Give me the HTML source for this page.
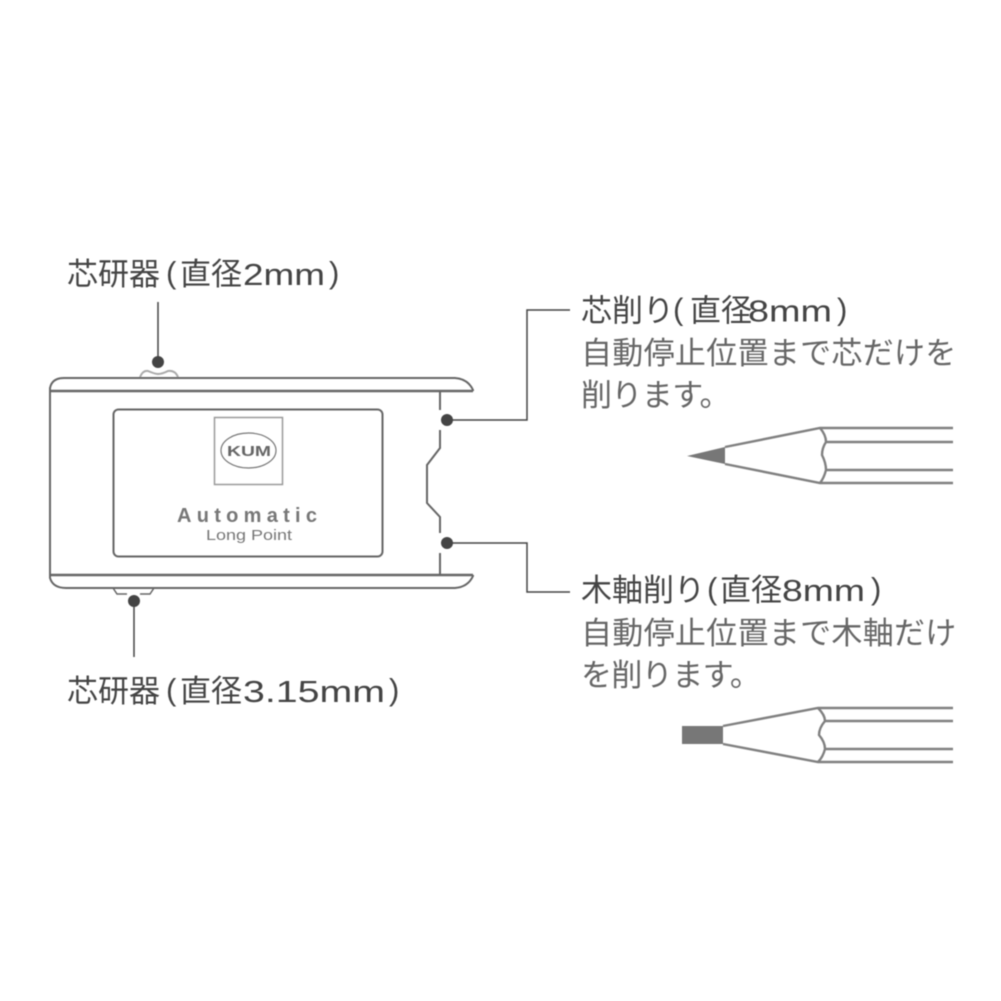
<!DOCTYPE html>
<html><head><meta charset="utf-8"><style>
html,body{margin:0;padding:0;background:#fff}
svg{display:block;filter:blur(.5px)}
text{font-family:"Liberation Sans","Noto Sans CJK JP",sans-serif;font-size:31px}
.h text{fill:#444}
.b text{fill:#666}
</style></head><body>
<svg width="1001" height="1001" viewBox="0 0 1001 1001" xmlns="http://www.w3.org/2000/svg">
<g fill="none" stroke="#666" stroke-width="2">
<path d="M50 391V388Q52 378 64 378H455Q468 379 473 390V391"/>
<path d="M50 391H473M50 575H473" stroke-width="2.600"/>
<path d="M50 391V575"/>
<path d="M50 575V578Q53 588 66 588H455Q468 587 473 576V575"/>
<rect x="113.500" y="409.500" width="269" height="147" rx="5"/>
<path d="M440 391V410M440 430V448L427 465V503L440 517V533M440 553V575"/>
<rect x="214.500" y="417.500" width="68" height="67" stroke="#999" stroke-width="1.500"/>
<ellipse cx="248.500" cy="450.500" rx="27.500" ry="17.500" stroke-width="1.200" stroke="#777"/>
<path d="M140 377Q143 370 148 371Q155 374 158 374Q162 374 168 371Q175 370 178 377" stroke="#aaa" stroke-width="2"/>
<path d="M113 588L117 594H127M140 594H150L154 588" stroke-width="1.500"/>
</g>
<g stroke="#444" stroke-width="1.500" fill="none">
<path d="M158 302V362"/>
<path d="M134 601V657"/>
<path d="M447 420H527V310H570"/>
<path d="M447 543H527V592H570"/>
</g>
<g fill="#444">
<circle cx="158" cy="362" r="6"/>
<circle cx="134" cy="601" r="6"/>
<circle cx="447" cy="420" r="6"/>
<circle cx="447" cy="543" r="6"/>
</g>
<g style="fill:#777">
<text x="227" y="456" style="font-size:15px;font-weight:700;fill:#666" textLength="44" lengthAdjust="spacingAndGlyphs">KUM</text>
<text x="177" y="522" style="font-size:20px;font-weight:700;fill:#777" textLength="140">Automatic</text>
<text x="206" y="540" style="font-size:15px;fill:#777" textLength="86" lengthAdjust="spacingAndGlyphs">Long Point</text>
</g>
<g class="h">
<text x="67" y="285">芯研器</text>
<text x="166" y="283">(</text>
<text x="180" y="285">直径</text>
<text x="243" y="285" textLength="82" lengthAdjust="spacingAndGlyphs">2mm</text>
<text x="329" y="283">)</text>

<text x="67" y="702">芯研器</text>
<text x="166" y="700">(</text>
<text x="180" y="702">直径</text>
<text x="243" y="702" textLength="142" lengthAdjust="spacingAndGlyphs">3.15mm</text>
<text x="389" y="700">)</text>

<text x="581" y="321.500">芯削り</text>
<text x="673" y="319.500">(</text>
<text x="690" y="321.500">直径</text>
<text x="748" y="321.500" textLength="84" lengthAdjust="spacingAndGlyphs">8mm</text>
<text x="837" y="319.500">)</text>

<text x="581" y="601">木軸削り</text>
<text x="707" y="599">(</text>
<text x="720" y="601">直径</text>
<text x="782" y="601" textLength="83" lengthAdjust="spacingAndGlyphs">8mm</text>
<text x="871" y="599">)</text>
</g>
<g class="b">
<text x="581" y="364" style="letter-spacing:.3px">自動停止位置まで芯だけを</text>
<text x="581" y="406" style="letter-spacing:-.6px">削ります。</text>
<text x="581" y="644" style="letter-spacing:.3px">自動停止位置まで木軸だけ</text>
<text x="581" y="686" style="letter-spacing:-.6px">を削ります。</text>
</g>
<g fill="none" stroke="#808080" stroke-width="2.400">
<path d="M953 428H820L725 447M725 464L820 483H953"/>
<path d="M820 428Q826 435 826 442Q822 448 822 455Q826 463 826 470Q824 478 820 483M826 442H953M826 470H953"/>
<path d="M953 708H818L723 726M723 744L818 762H953"/>
<path d="M818 708Q825 715 825 721Q819 728 819 735Q825 742 825 749Q823 757 818 762M825 721H953M825 749H953"/>
</g>
<path d="M687 456L725 447V464Z" fill="#777"/>
<rect x="682" y="726" width="41" height="18" fill="#777"/>
</svg>
</body></html>
